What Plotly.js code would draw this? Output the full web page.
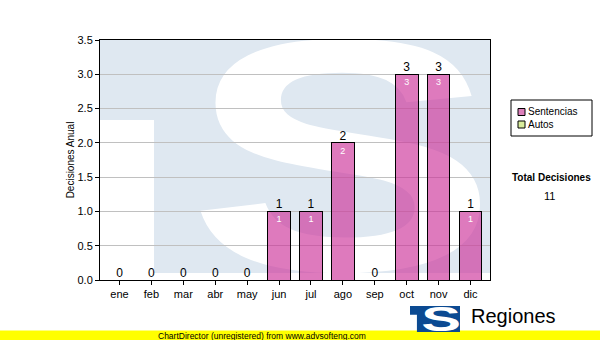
<!DOCTYPE html>
<html>
<head>
<meta charset="utf-8">
<script src="https://cdn.plot.ly/plotly-3.0.1.min.js"></script>
<style>html,body{margin:0;padding:0;background:#fff}#chart{width:600px;height:340px}</style>
</head>
<body>
<div id="chart"></div>
<script>
// ---- data ----
const months = ['ene','feb','mar','abr','may','jun','jul','ago','sep','oct','nov','dic'];
const sentencias = [0,0,0,0,0,1,1,2,0,3,3,1];
const autos = [0,0,0,0,0,0,0,0,0,0,0,0];
const seriesNames = ['Sentencias','Autos'];
const seriesColors = ['rgba(204,51,153,0.65)', '#d8ec9c'];
const legendSwatch = ['#dd80bb', '#d8ec9c'];
const yTitle = 'Decisiones Anual';
const totalLabel = 'Total Decisiones';
const brandText = 'Regiones';
const footerText = 'ChartDirector (unregistered) from www.advsofteng.com';

const totals = months.map((m,i) => sentencias[i] + autos[i]);
const totalDecisiones = totals.reduce((a,b) => a + b, 0);

const FONT = 'Liberation Sans, Arial, sans-serif';

function logoSVG(blue, stem) {
  const svg = "<svg xmlns='http://www.w3.org/2000/svg' viewBox='0 0 390 240' preserveAspectRatio='none' width='390' height='240'>" +
    "<path d='M0,0H390V" + stem + "H54V80H0Z' fill='" + blue + "'/>" +
    "<text x='0' y='0' transform='translate(87,230) scale(1.41,1)' font-family='Liberation Sans' font-weight='bold' font-size='331' text-anchor='start' fill='#ffffff'>S</text>" +
    "</svg>";
  return 'data:image/svg+xml;charset=utf-8,' + encodeURIComponent(svg);
}

// plot area: x 100..490, y 40..280
const px = v => (v - 100) / 390;
const py = v => (280 - v) / 240;

const traces = [
  {
    type: 'bar', name: seriesNames[0], x: months, y: sentencias,
    marker: {color: seriesColors[0], line: {color: '#000', width: 1}},
    text: sentencias.map(v => v > 0 ? String(v) : ''),
    textposition: 'inside', insidetextanchor: 'end', textangle: 0,
    insidetextfont: {family: FONT, size: 9, color: '#ffffff'},
    hoverinfo: 'skip', showlegend: false
  },
  {
    type: 'bar', name: seriesNames[1], x: months, y: autos,
    marker: {color: seriesColors[1], line: {color: '#000', width: 1}},
    hoverinfo: 'skip', showlegend: false
  },
  {
    type: 'scatter', mode: 'text', x: months, y: totals,
    text: totals.map(String), textposition: 'top center',
    textfont: {family: FONT, size: 12, color: '#000'},
    showlegend: false, cliponaxis: false, hoverinfo: 'skip'
  }
];

const legendTop = 100, legendBottom = 136;
const itemY = [112, 124.5];
const shapes = [
  {type: 'rect', xref: 'paper', yref: 'paper', x0: px(0), x1: px(600), y0: py(330.5), y1: py(341),
   fillcolor: '#ffff00', line: {width: 0}, layer: 'below'},
  {type: 'rect', xref: 'paper', yref: 'paper', x0: px(511), x1: px(592), y0: py(legendTop), y1: py(legendBottom),
   fillcolor: '#ffffff', line: {color: '#000', width: 1}, layer: 'above'}
];
seriesNames.forEach((name, i) => {
  shapes.push({type: 'rect', xref: 'paper', yref: 'paper', x0: px(518), x1: px(525), y0: py(itemY[i] + 3.5), y1: py(itemY[i] - 3.5),
    fillcolor: legendSwatch[i], line: {color: '#000', width: 1}, layer: 'above'});
});
const annotations = [
  {text: seriesNames.join('<br>'), xref: 'paper', yref: 'paper', x: px(527), y: py((itemY[0] + itemY[1]) / 2),
   xanchor: 'left', yanchor: 'middle', align: 'left', showarrow: false, borderpad: 0,
   font: {family: FONT, size: 10, color: '#000'}},
  {text: '<b>' + totalLabel + '</b>', xref: 'paper', yref: 'paper', x: px(551), y: py(177),
   xanchor: 'center', yanchor: 'middle', showarrow: false, font: {family: FONT, size: 10, color: '#000'}},
  {text: String(totalDecisiones), xref: 'paper', yref: 'paper', x: px(549), y: py(196),
   xanchor: 'center', yanchor: 'middle', showarrow: false, font: {family: FONT, size: 11, color: '#000'}},
  {text: brandText, xref: 'paper', yref: 'paper', x: px(469), y: py(316),
   xanchor: 'left', yanchor: 'middle', showarrow: false, font: {family: FONT, size: 20, color: '#000'}},
  {text: footerText, xref: 'paper', yref: 'paper', x: px(262), y: py(335.5),
   xanchor: 'center', yanchor: 'middle', showarrow: false,
   font: {family: FONT, size: 8.5, color: '#000'}}
];

const layout = {
  width: 600, height: 340,
  margin: {l: 100, r: 110, t: 40, b: 60, pad: 0},
  paper_bgcolor: '#ffffff', plot_bgcolor: '#ffffff',
  barmode: 'stack', bargap: 0.29,
  showlegend: false,
  font: {family: FONT, size: 11, color: '#000'},
  xaxis: {
    type: 'category', showline: true, linecolor: '#000', linewidth: 1, mirror: true,
    ticks: 'outside', ticklen: 4, tickcolor: '#000', showgrid: false, zeroline: false,
    tickfont: {family: FONT, size: 11, color: '#000'}, fixedrange: true
  },
  yaxis: {
    range: [0, 3.5], dtick: 0.5, tick0: 0, tickformat: '.1f',
    showline: true, linecolor: '#000', linewidth: 1, mirror: true,
    ticks: 'outside', ticklen: 4, tickcolor: '#000',
    showgrid: true, gridcolor: '#c0c0c0', gridwidth: 1, zeroline: false,
    tickfont: {family: FONT, size: 11, color: '#000'},
    title: {text: yTitle, font: {family: FONT, size: 10, color: '#000'}, standoff: 1},
    fixedrange: true
  },
  images: [
    {source: logoSVG('#dfe8f1', 233), xref: 'paper', yref: 'paper', x: 0, y: 1, sizex: 1, sizey: 1,
     xanchor: 'left', yanchor: 'top', sizing: 'stretch', layer: 'below'},
    {source: logoSVG('#0b4a92', 240), xref: 'paper', yref: 'paper', x: px(410), y: py(306),
     sizex: 50/390, sizey: 26/240, xanchor: 'left', yanchor: 'top', sizing: 'stretch', layer: 'above'}
  ],
  shapes: shapes,
  annotations: annotations
};

Plotly.newPlot('chart', traces, layout, {displayModeBar: false, staticPlot: true});
</script>
</body>
</html>
